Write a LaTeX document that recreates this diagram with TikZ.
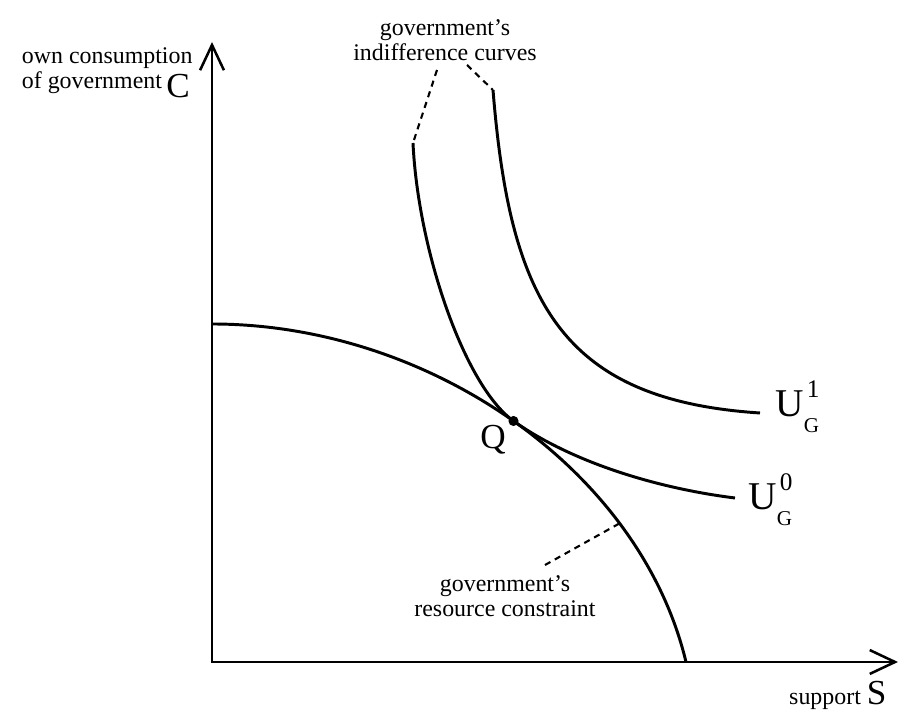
\documentclass[tikz,border=0pt]{standalone}
\usepackage{fontspec}
\setmainfont{Liberation Serif}
\usepackage{tikz}
\usetikzlibrary{arrows.meta,positioning,calc}

% U with sub G and a superscript
\newcommand{\UG}[1]{U\makebox[0pt][l]{\raisebox{7pt}{\hspace{1pt}\fontsize{9}{9}\selectfont #1}}\raisebox{-5.5pt}{\fontsize{7.5}{8}\selectfont G}}

\begin{document}
\begin{tikzpicture}[
x=0.125cm, y=0.125cm,
font=\fontsize{8.5}{9}\selectfont,
axes/.style={line width=0.9pt, {Straight Barb[length=9pt,width=8.5pt,line width=0.9pt]}-{Straight Barb[length=9pt,width=8.5pt,line width=0.9pt]}},
curve/.style={line width=1.05pt},
leader/.style={line width=0.75pt, dash pattern=on 2.2pt off 1.8pt},
big/.style={font=\fontsize{12.5}{14}\selectfont},
ulabel/.style={font=\fontsize{14}{16}\selectfont, anchor=base west, inner sep=0pt}
]
\useasboundingbox (-21.2,-5) rectangle (71.2,66.2);

% Axes
\coordinate (O) at (0,0);
\coordinate (ytip) at (0,62);
\coordinate (xtip) at (68.6,0);
\draw[axes] (ytip) -- (O) -- (xtip);

\node[align=left, anchor=west] (ylab) at (-20,59.1) {own consumption\\of government};
\node[big] (C) at (-3.4,57.6) {C};
\node[anchor=base east, inner sep=0pt] (xlab) at (67.5,-4.3)
{support {\fontsize{12.5}{14}\selectfont S}};

% Resource constraint
\coordinate (r0) at (0,33.8);
\coordinate (r3) at (47.4,0);
\draw[curve] (r0) .. controls (21.8,33.8) and (42.8,19.2) ..
coordinate[pos=0.5] (Q) coordinate[pos=0.74] (rc) (r3);

% Indifference curves
\coordinate (u0top) at (20.1,51.9);
\coordinate (u0end) at (52.3,16.4);
\draw[curve] (u0top) .. controls (20.6,41.2) and ($(Q)+(-4.9,3.5)$) .. (Q)
.. controls ($(Q)+(5.7,-4.05)$) and (44.3,17.4) .. (u0end);

\coordinate (u1top) at (28.1,57.2);
\coordinate (u1end) at (54.8,24.9);
\draw[curve] (u1top) .. controls (29.8,36.2) and (34.8,26.2) .. (u1end);

\node[ulabel] (U1) at (56.3,24.5) {\UG{1}};
\node[ulabel] (U0) at (53.6,15.2) {\UG{0}};

% Tangency point
\fill (Q) circle (1.8pt);
\node[big] (Qlab) at (28.1,22.2) {Q};

% Labels with dashed leaders
\node[align=center] (iclab) at (23.3,62.2) {government's\\indifference curves};
\coordinate (ic1) at (22.5,59.2);
\coordinate (ic2) at (25.5,59.7);
\draw[leader] (ic1) -- (u0top);
\draw[leader] (ic2) -- (u1top);

\node[align=center] (rclab) at (29.3,6.6) {government's\\resource constraint};
\coordinate (rc1) at (33.3,9.7);
\draw[leader] (rc1) -- (rc);

\end{tikzpicture}
\end{document}
